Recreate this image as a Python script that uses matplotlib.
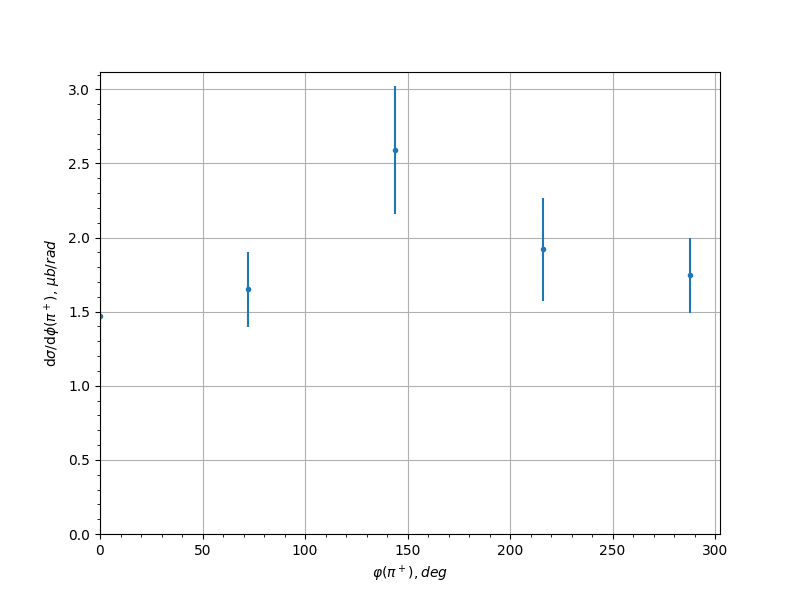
import matplotlib
matplotlib.use("Agg")
import matplotlib.pyplot as plt

# phi bins (deg), cross section and errors
phi = [0, 72, 144, 216, 288]
xsec = [1.47, 1.652, 2.59, 1.92, 1.745]
xsec_err = [0.35, 0.253, 0.432, 0.345, 0.254]

fig, ax = plt.subplots(figsize=(8, 6), dpi=100)

ax.errorbar(phi, xsec, yerr=xsec_err, fmt='.')
ax.set_xlim(left=0)
ax.set_ylim(bottom=0)

ax.set_xlabel(r'$\varphi(\pi^+), deg$')
ax.set_ylabel(r'd$\sigma$/d$\phi$$(\pi^+)$, $\mu b/rad$')
ax.minorticks_on()
ax.grid(True)

plt.savefig("out.png")
